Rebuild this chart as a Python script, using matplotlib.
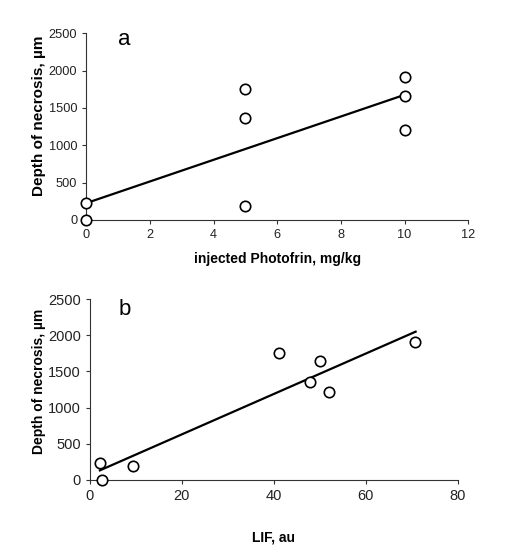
import matplotlib
matplotlib.use('Agg')
import matplotlib.pyplot as plt

plt.rcParams['font.family'] = ['Liberation Sans', 'DejaVu Sans']

# panel a: injected Photofrin vs depth of necrosis
dose = [0, 0, 5, 5, 5, 10, 10, 10]
depth_a = [230, 0, 1755, 1360, 180, 1915, 1655, 1210]
fit_a_x = [0, 10]
fit_a_y = [225, 1675]

# panel b: LIF vs depth of necrosis
lif = [2.2, 2.7, 9.3, 41.2, 47.8, 50.1, 52.0, 70.7]
depth_b = [230, 0, 185, 1755, 1360, 1650, 1210, 1910]
fit_b_x = [2.2, 70.8]
fit_b_y = [130, 2050]

fig = plt.figure(figsize=(5.1, 5.54), dpi=100)
ax1 = fig.add_axes([0.169, 0.603, 0.749, 0.337])
ax2 = fig.add_axes([0.176, 0.134, 0.722, 0.326])


def style(ax, xlim, xticks, xlabel, letter, lpos, tsize, ysize):
    ax.set_xlim(*xlim)
    ax.set_ylim(0, 2500)
    ax.set_xticks(xticks)
    ax.set_yticks([0, 500, 1000, 1500, 2000, 2500])
    for s in ['top', 'right']:
        ax.spines[s].set_visible(False)
    for s in ['left', 'bottom']:
        ax.spines[s].set_linewidth(0.8)
        ax.spines[s].set_color('#333333')
    ax.tick_params(labelsize=tsize, length=3, width=0.8, colors='#333333', labelcolor='#222222')
    ax.set_xlabel(xlabel, fontsize=10, fontweight='bold', labelpad=8)
    ax.set_ylabel('Depth of necrosis, µm', fontsize=ysize, fontweight='bold')
    ax.text(lpos[0], lpos[1], letter, fontsize=16, va='center', ha='center')


ax1.plot(fit_a_x, fit_a_y, color='black', lw=1.6, zorder=2)
ax1.plot(dose, depth_a, 'o', mfc='white', mec='black', mew=1.2, ms=7.5, zorder=3, clip_on=False)
style(ax1, (0, 12), range(0, 13, 2), 'injected Photofrin, mg/kg', 'a', (1.2, 2420), 9.2, 11)
ax1.yaxis.set_label_coords(-0.105, 0.56)

ax2.plot(fit_b_x, fit_b_y, color='black', lw=1.6, zorder=2)
ax2.plot(lif, depth_b, 'o', mfc='white', mec='black', mew=1.2, ms=7.5, zorder=3, clip_on=False)
style(ax2, (0, 80), range(0, 81, 20), 'LIF, au', 'b', (7.5, 2350), 10.5, 10)
ax2.xaxis.labelpad = 20
ax2.yaxis.set_label_coords(-0.12, 0.547)

fig.savefig('out.png', dpi=100)
